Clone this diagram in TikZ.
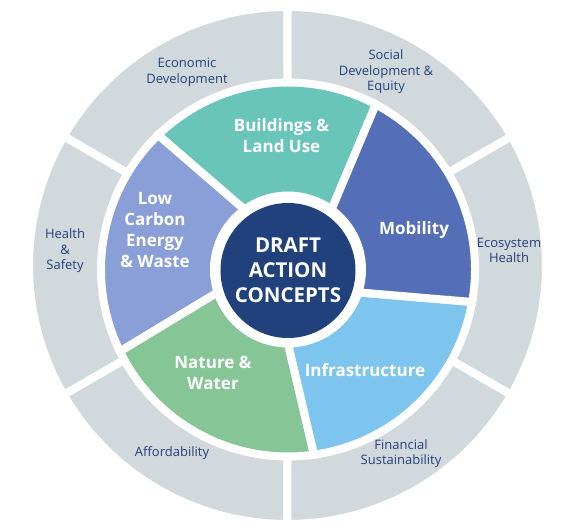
\documentclass[tikz,border=0pt]{standalone}
\usepackage{fontspec}
\setmainfont{Open Sans}
\usepackage{xcolor}
\definecolor{ringgray}{HTML}{D2D9DD}
\definecolor{goalblue}{HTML}{24407D}
\definecolor{bldg}{HTML}{69C5BA}
\definecolor{mobl}{HTML}{546FB7}
\definecolor{infr}{HTML}{7DC5EE}
\definecolor{natr}{HTML}{86C596}
\definecolor{lowc}{HTML}{8A9ED7}
\definecolor{corefill}{HTML}{21417D}
\tikzset{
  ring/.style={fill=ringgray, draw=white, line width=8pt},
  petal/.style={draw=white, line width=8pt},
  goal/.style={font=\fontsize{13}{15.5}\selectfont, text=goalblue, align=center, inner sep=0pt},
  theme/.style={font=\bfseries\fontsize{17}{21}\selectfont, text=white, align=center, inner sep=0pt},
  corelabel/.style={circle, fill=corefill, minimum size=135pt, inner sep=0pt,
    font=\bfseries\fontsize{20.5}{25}\selectfont, text=white, align=center}
}
\begin{document}
\begin{tikzpicture}[x=1pt, y=1pt]
  \def\Ro{258.5}\def\Rw{190}\def\Rp{187}\def\Ri{74}
  \useasboundingbox (-288,-262.5) rectangle (296,269.5);
  % outer ring: six goals
  \begin{scope}[shift={(-0.5,4)}]
    \foreach \a in {-150,-90,...,150}
      \filldraw[ring] (0,0) -- (\a:\Ro) arc[start angle=\a, delta angle=60, radius=\Ro pt] -- cycle;
  \end{scope}
  \fill[white] (0,0) circle[radius=\Rw pt];
  % inner ring: five action areas, slightly twisted edges
  \foreach \a/\c in {62/bldg, 134/lowc, 206/natr, 278/infr, 350/mobl}
    \filldraw[petal, fill=\c] (\a-8:\Ri) -- (\a:\Rp)
      arc[start angle=\a, delta angle=72, radius=\Rp pt] -- (\a+64:\Ri)
      arc[start angle=\a+64, delta angle=-72, radius=\Ri pt] -- cycle;
  % centre
  \node[corelabel] (core) at (0,-1) {DRAFT\\ACTION\\CONCEPTS};
  % action area labels
  \node[theme] (build) at (-6.5,134) {Buildings \&\\Land Use};
  \node[theme] (mobility) at (126,39.5) {Mobility};
  \node[theme] (infra) at (77,-100.5) {Infrastructure};
  \node[theme] (nature) at (-75,-103.5) {Nature \&\\Water};
  \node[theme] (lowcarbon) at (-133,39) {Low\\Carbon\\Energy\\\& Waste};
  % goal labels
  \node[goal] (econ) at (-101,197) {Economic\\Development};
  \node[goal] (social) at (98,197.5) {Social\\Development \&\\Equity};
  \node[goal] (eco) at (221,19) {Ecosystem\\Health};
  \node[goal] (finance) at (113,-184) {Financial\\Sustainability};
  \node[goal] (afford) at (-116,-184) {Affordability};
  \node[goal] (health) at (-223,18.5) {Health\\\&\\Safety};
\end{tikzpicture}
\end{document}
